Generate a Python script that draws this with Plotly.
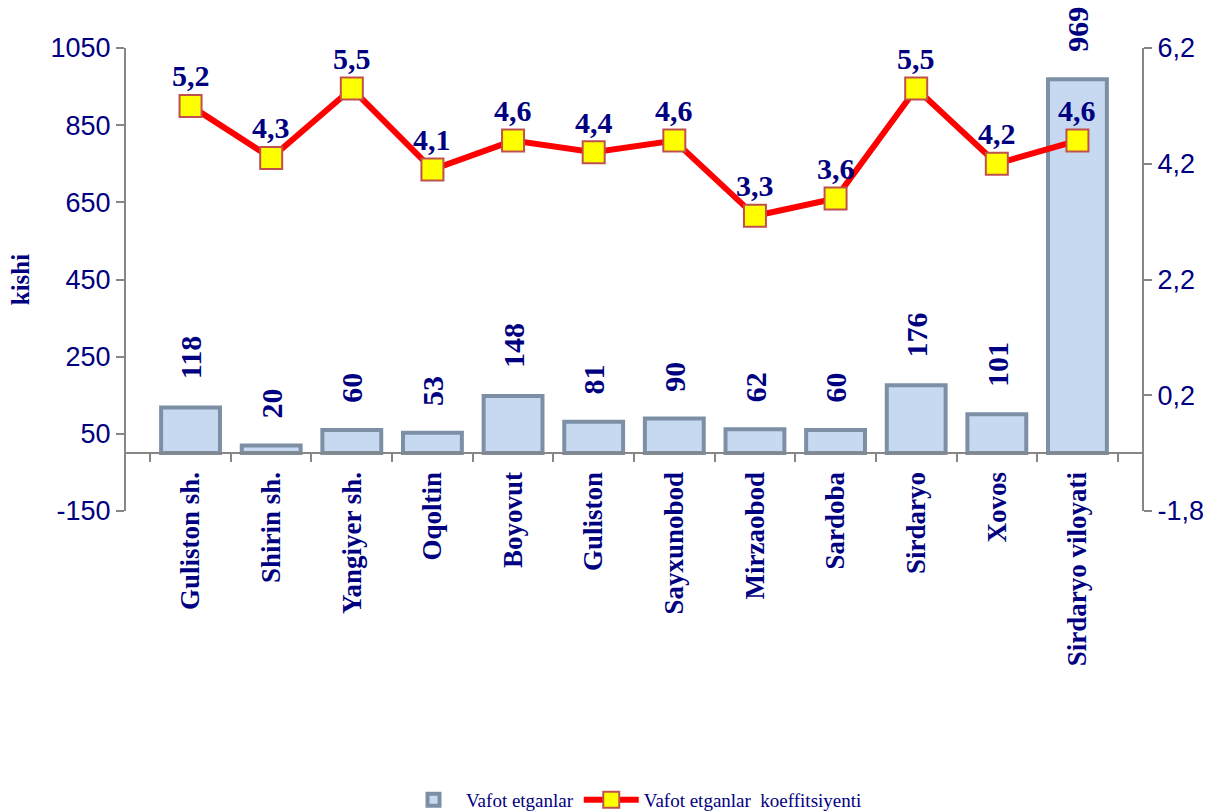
import plotly.graph_objects as go

categories = ["Guliston sh.", "Shirin sh.", "Yangiyer sh.", "Oqoltin", "Boyovut", "Guliston",
              "Sayxunobod", "Mirzaobod", "Sardoba", "Sirdaryo", "Xovos", "Sirdaryo viloyati"]
deaths = [118, 20, 60, 53, 148, 81, 90, 62, 60, 176, 101, 969]
coef = [5.2, 4.3, 5.5, 4.1, 4.6, 4.4, 4.6, 3.3, 3.6, 5.5, 4.2, 4.6]

left_ticks = [-150, 50, 250, 450, 650, 850, 1050]
right_ticks = [-1.8, 0.2, 2.2, 4.2, 6.2]
left_ticktext = [str(v) for v in left_ticks]
right_ticktext = [f"{v:.1f}".replace(".", ",") for v in right_ticks]

NAVY = "#000080"
GRAY = "#868686"
SERIF = "Liberation Serif"
SANS = "Liberation Sans"

fig = go.Figure()
fig.add_trace(go.Bar(
    x=categories, y=deaths, name="Vafot etganlar", width=0.73,
    marker=dict(color="#c6d9f1", line=dict(color="#7d8fa5", width=4)),
    yaxis="y"))
fig.add_trace(go.Scatter(
    x=categories, y=coef, name="Vafot etganlar  koeffitsiyenti", mode="lines+markers",
    line=dict(color="#ff0000", width=6),
    marker=dict(symbol="square", size=22, color="#ffff00", line=dict(color="#c0504d", width=2)),
    yaxis="y2", cliponaxis=False))

annotations = []
for c, v in zip(categories, deaths):
    t = str(v)
    annotations.append(dict(x=c, y=v, xref="x", yref="y", text=t, showarrow=False,
                            textangle=-90, yanchor="middle", xanchor="center",
                            yshift=26 + 8 * len(t),
                            font=dict(family=SERIF, size=30, color=NAVY, weight="bold")))
for c, v in zip(categories, coef):
    annotations.append(dict(x=c, y=v, xref="x", yref="y2", text=f"{v:.1f}".replace(".", ","),
                            showarrow=False, yanchor="middle", xanchor="center", yshift=30,
                            font=dict(family=SERIF, size=30, color=NAVY, weight="bold")))

fig.update_layout(
    width=1214, height=812,
    margin=dict(l=126, r=72, t=48, b=301, autoexpand=False),
    paper_bgcolor="white", plot_bgcolor="white",
    showlegend=True,
    legend=dict(orientation="h", x=0.5, xanchor="center", y=-0.624,
                yanchor="middle", font=dict(family=SERIF, size=19, color=NAVY),
                tracegroupgap=0, itemwidth=55),
    xaxis=dict(anchor="free", position=0.125, showline=True, linecolor=GRAY, linewidth=2,
               ticks="outside", tickson="boundaries", ticklen=8, tickcolor=GRAY, tickwidth=2,
               tickangle=-90, showgrid=False, automargin=False, ticklabelstandoff=7,
               tickfont=dict(family=SERIF, size=27, color=NAVY, weight="bold")),
    yaxis=dict(range=[-150, 1050], tickvals=left_ticks, ticktext=left_ticktext,
               showline=True, linecolor=GRAY, linewidth=2, ticks="outside", ticklen=8,
               tickcolor=GRAY, tickwidth=2, showgrid=False, zeroline=False, automargin=False,
               tickfont=dict(family=SANS, size=27, color=NAVY),
               title=dict(text="kishi", standoff=14,
                          font=dict(family=SERIF, size=25, color=NAVY, weight="bold"))),
    yaxis2=dict(range=[-1.8, 6.2], tickvals=right_ticks, ticktext=right_ticktext,
                overlaying="y", side="right", anchor="x", automargin=False,
                showline=True, linecolor=GRAY, linewidth=2, ticks="outside", ticklen=8,
                tickcolor=GRAY, tickwidth=2, showgrid=False, zeroline=False,
                tickfont=dict(family=SANS, size=27, color=NAVY)),
    annotations=annotations,
)

fig.write_html("out.html", config={"displayModeBar": False},
               post_script="document.body.style.margin='0px';")
